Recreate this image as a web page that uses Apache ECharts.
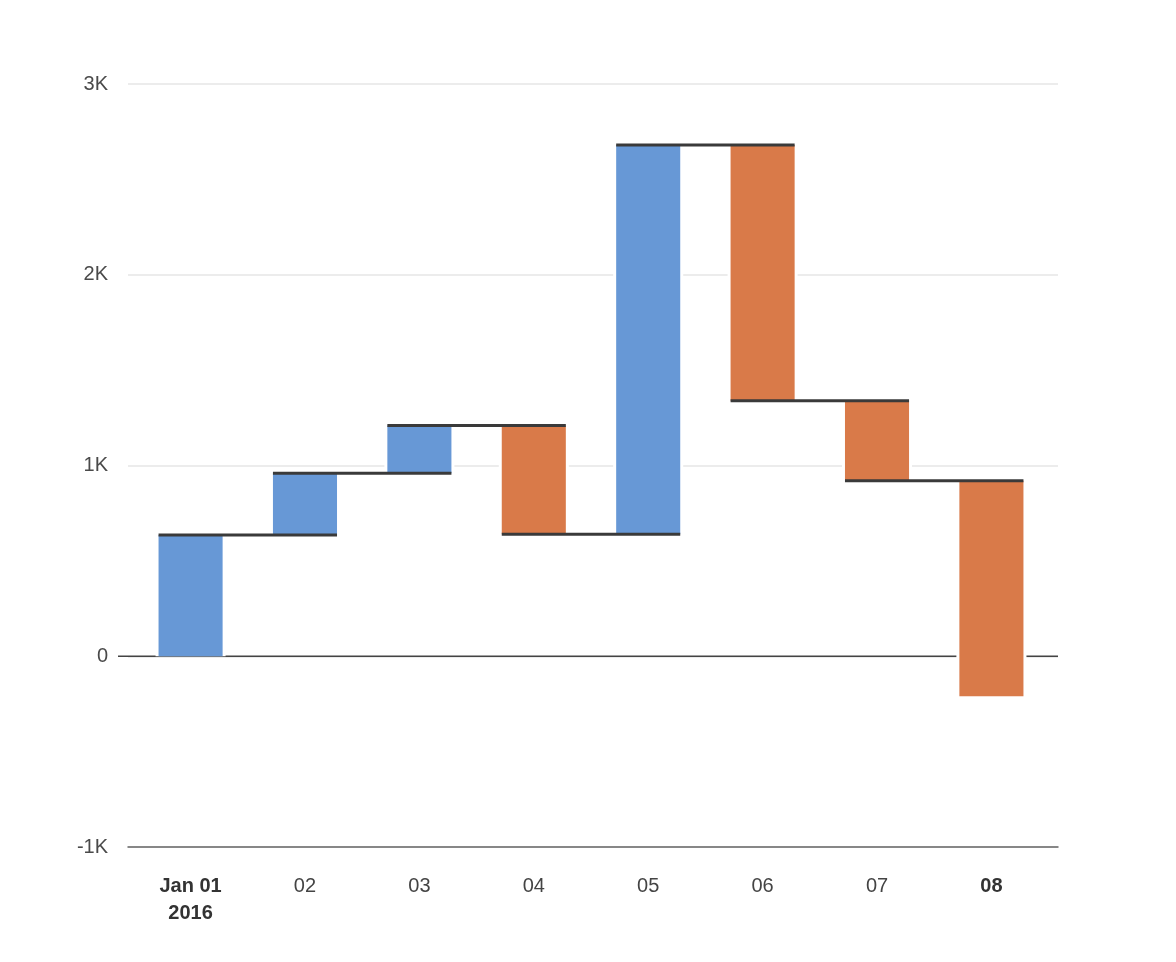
<!DOCTYPE html>
<html>
<head>
<meta charset="utf-8">
<script src="https://cdn.jsdelivr.net/npm/echarts@6/dist/echarts.min.js"></script>
<style>
html,body{margin:0;padding:0;background:#fff;}
#chart{width:1176px;height:962px;}
</style>
</head>
<body>
<div id="chart"></div>
<script>
// ---- data ----
const categories = ['Jan 01\n2016', '02', '03', '04', '05', '06', '07', '08'];
const boldCategories = [0, 7];
const changes = [635, 325, 250, -570, 2040, -1340, -420, -1130];
const yTicks = [-1000, 0, 1000, 2000, 3000];
const yTickLabels = ['-1K', '0', '1K', '2K', '3K'];

// ---- derived ----
const barRows = [];
const levelRows = [];
let level = 0;
changes.forEach((c, i) => {
  const start = level;
  level = level + c;
  barRows.push([i, start, level]);
  if (i < changes.length - 1) levelRows.push([i, level]);
});

const BLUE = '#6798D6';
const ORANGE = '#D97A49';
const FONT = '"Liberation Sans", Arial, sans-serif';

const chart = echarts.init(document.getElementById('chart'));
chart.setOption({
  animation: false,
  backgroundColor: '#fff',
  grid: { left: 128, right: 118, top: 84, bottom: 115, containLabel: false },
  xAxis: {
    type: 'value',
    min: -0.547,
    max: 7.582,
    axisLine: { show: true, onZero: false, lineStyle: { color: '#666', width: 1.5 } },
    axisTick: { show: false },
    splitLine: { show: false },
    axisLabel: {
      customValues: categories.map((_, i) => i),
      margin: 26,
      fontFamily: FONT,
      fontSize: 20,
      color: '#444',
      lineHeight: 27,
      formatter: function (v) {
        const i = Math.round(v);
        const lines = categories[i].split('\n');
        const tag = boldCategories.indexOf(i) >= 0 ? 'b' : 'n';
        return lines.map(l => '{' + tag + '|' + l + '}').join('\n');
      },
      rich: {
        b: { fontWeight: 'bold', color: '#333', fontSize: 20, fontFamily: FONT, lineHeight: 27 },
        n: { fontWeight: 'normal', color: '#444', fontSize: 20, fontFamily: FONT, lineHeight: 27 }
      }
    }
  },
  yAxis: {
    type: 'value',
    min: yTicks[0],
    max: yTicks[yTicks.length - 1],
    interval: 1000,
    axisLine: { show: false },
    axisTick: { show: false },
    splitLine: { show: true, lineStyle: { color: '#e6e6e6', width: 1.5 } },
    axisLabel: {
      margin: 20,
      fontFamily: FONT,
      fontSize: 20,
      color: '#4a4a4a',
      formatter: function (v) {
        const k = yTicks.indexOf(v);
        return k >= 0 ? yTickLabels[k] : '';
      }
    }
  },
  series: [
    {
      // zero baseline
      type: 'custom',
      z: 1,
      silent: true,
      data: [[0, 0]],
      encode: { x: 0, y: 1 },
      renderItem: function (params, api) {
        const cs = params.coordSys;
        const y = api.coord([0, 0])[1];
        return {
          type: 'line',
          shape: { x1: cs.x - 10, y1: y, x2: cs.x + cs.width, y2: y },
          style: { stroke: '#444', lineWidth: 1.5 }
        };
      }
    },
    {
      // waterfall bars
      type: 'custom',
      z: 2,
      data: barRows,
      encode: { x: 0, y: [1, 2] },
      renderItem: function (params, api) {
        const i = api.value(0), s = api.value(1), e = api.value(2);
        const p0 = api.coord([i, s]);
        const p1 = api.coord([i, e]);
        const w = api.size([1, 0])[0] * 0.56;
        const y = Math.min(p0[1], p1[1]);
        const h = Math.abs(p1[1] - p0[1]);
        return {
          type: 'group',
          children: [
            { type: 'rect', shape: { x: p0[0] - w / 2 - 3, y: y, width: w + 6, height: h }, style: { fill: '#fff' } },
            { type: 'rect', shape: { x: p0[0] - w / 2, y: y, width: w, height: h }, style: { fill: e >= s ? BLUE : ORANGE } }
          ]
        };
      }
    },
    {
      // connector lines
      type: 'custom',
      z: 3,
      data: levelRows,
      encode: { x: 0, y: 1 },
      renderItem: function (params, api) {
        const i = api.value(0), v = api.value(1);
        const a = api.coord([i, v]);
        const b = api.coord([i + 1, v]);
        const hw = api.size([1, 0])[0] * 0.28;
        return {
          type: 'line',
          shape: { x1: a[0] - hw, y1: a[1], x2: b[0] + hw, y2: b[1] },
          style: { stroke: '#3a3a3a', lineWidth: 3 }
        };
      }
    }
  ]
});
</script>
</body>
</html>
